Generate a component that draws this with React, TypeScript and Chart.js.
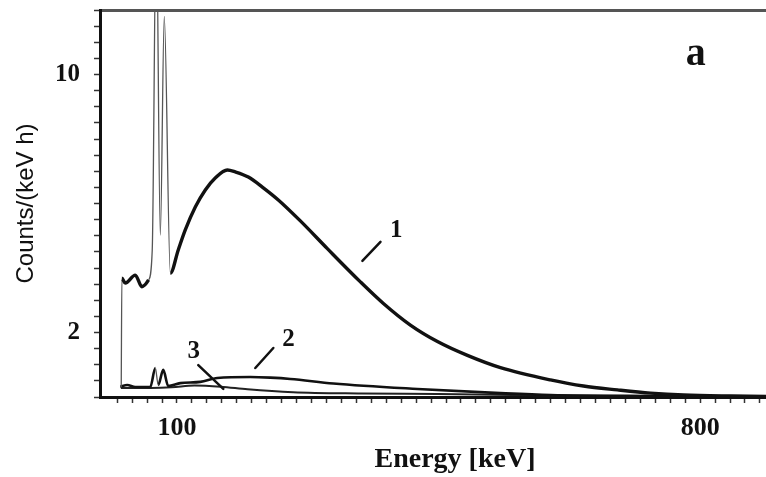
import React, { useEffect, useRef } from "react";
import { Chart, registerables } from "chart.js";

Chart.register(...registerables);

// ---- data (energy in keV, counts in 1/(keV h)) ----
const energy1 = [25.4, 26.3, 30.8, 44.2, 53.1, 62.0, 66.9, 72.3, 77.7, 83.0, 91.1, 101.7, 111.1, 124.5, 137.9, 151.2, 167.4, 178.0, 195.5, 214.2, 235.6, 265.1, 301.2, 345.4, 376.2, 412.3, 448.5, 488.6, 532.8, 599.7, 643.9, 689.4, 733.6, 777.8, 840.8, 888.9, 947];
const counts1 = [0.30, 3.68, 3.53, 3.78, 3.42, 3.63, 4.56, 15.0, 5.02, 11.8, 3.84, 4.56, 5.18, 5.89, 6.42, 6.79, 7.04, 6.98, 6.82, 6.51, 6.11, 5.46, 4.60, 3.57, 2.90, 2.23, 1.72, 1.29, 0.91, 0.53, 0.34, 0.22, 0.12, 0.06, 0.03, 0.02, 0.02];

const energy2 = [24.1, 33.4, 44.2, 64.3, 71.0, 74.9, 81.6, 88.3, 104.4, 131.2, 154.0, 198.1, 224.9, 251.7, 309.2, 421.7, 532.8, 599.8, 733.6, 888.9, 947];
const counts2 = [0.32, 0.37, 0.31, 0.31, 0.90, 0.37, 0.84, 0.34, 0.43, 0.47, 0.59, 0.62, 0.60, 0.56, 0.42, 0.25, 0.12, 0.06, 0.03, 0.02, 0.02];

const energy3 = [24.9, 44.2, 64.5, 92.9, 123.3, 158.9, 194.4, 255.3, 346.6, 448.1, 549.6, 701.7, 947];
const counts3 = [0.28, 0.28, 0.28, 0.30, 0.36, 0.32, 0.24, 0.15, 0.11, 0.09, 0.06, 0.03, 0.02];

const xTickLabels = [100, 800];
const yTickLabels = [2, 10];

// curve labels with pointer lines (data coordinates)
const curveLabels = ["1", "2", "3"];
const labelE = [393.3, 249.2, 122.3];
const labelC = [5.15, 1.77, 1.40];
const arrowE0 = [348.1, 204.8, 128.5];
const arrowC0 = [4.22, 0.90, 0.99];
const arrowE1 = [372.3, 228.9, 162.0];
const arrowC1 = [4.81, 1.52, 0.25];

const panelLabel = "a";
const panelE = [794.1];
const panelC = [10.6];

const toPoints = (xs: number[], ys: number[]) => xs.map((x, i) => ({ x, y: ys[i] }));

const steepSegment = (thick: number, thin: number) => ({
  borderWidth: (ctx: any) => {
    const dx = Math.abs(ctx.p1.x - ctx.p0.x);
    const dy = Math.abs(ctx.p1.y - ctx.p0.y);
    return dy > 4 * dx ? thin : thick;
  },
  borderColor: (ctx: any) => {
    const dx = Math.abs(ctx.p1.x - ctx.p0.x);
    const dy = Math.abs(ctx.p1.y - ctx.p0.y);
    return dy > 4 * dx ? "#555" : "#111";
  },
});

const annotate = {
  id: "annotate",
  afterDatasetsDraw(chart: any) {
    const { ctx, scales } = chart;
    const x = scales.x;
    const y = scales.y;
    ctx.save();
    ctx.strokeStyle = "#111";
    ctx.lineWidth = 2.5;
    ctx.lineCap = "round";
    for (let i = 0; i < curveLabels.length; i++) {
      ctx.beginPath();
      ctx.moveTo(x.getPixelForValue(arrowE0[i]), y.getPixelForValue(arrowC0[i]));
      ctx.lineTo(x.getPixelForValue(arrowE1[i]), y.getPixelForValue(arrowC1[i]));
      ctx.stroke();
    }
    ctx.fillStyle = "#111";
    ctx.textAlign = "center";
    ctx.textBaseline = "middle";
    ctx.font = 'bold 25px "Liberation Serif"';
    for (let i = 0; i < curveLabels.length; i++) {
      ctx.fillText(curveLabels[i], x.getPixelForValue(labelE[i]), y.getPixelForValue(labelC[i]));
    }
    ctx.font = 'bold 40px "Liberation Serif"';
    ctx.fillText(panelLabel, x.getPixelForValue(panelE[0]), y.getPixelForValue(panelC[0]));
    ctx.restore();
  },
};

const serif = '"Liberation Serif", "DejaVu Serif", serif';

export default function App() {
  const ref = useRef<HTMLCanvasElement | null>(null);
  useEffect(() => {
    if (!ref.current) return;
    const chart = new Chart(ref.current, {
      type: "line",
      data: {
        datasets: [
          {
            data: toPoints(energy1, counts1),
            borderColor: "#111",
            borderWidth: 3.4,
            pointRadius: 0,
            cubicInterpolationMode: "monotone",
            segment: steepSegment(3.4, 1.3),
          },
          {
            data: toPoints(energy2, counts2),
            borderColor: "#111",
            borderWidth: 2.6,
            pointRadius: 0,
            cubicInterpolationMode: "monotone",
            segment: steepSegment(2.6, 1.3),
          },
          {
            data: toPoints(energy3, counts3),
            borderColor: "#222",
            borderWidth: 2,
            pointRadius: 0,
            cubicInterpolationMode: "monotone",
          },
        ],
      },
      options: {
        responsive: false,
        animation: false,
        events: [],
        plugins: { legend: { display: false }, tooltip: { enabled: false } },
        layout: { padding: 0 },
        scales: {
          x: {
            type: "linear",
            position: "bottom",
            min: -3,
            max: 947,
            afterBuildTicks: (s: any) => {
              s.ticks = s.ticks.filter((t: any) => Math.abs(t.value / 20 - Math.round(t.value / 20)) < 1e-6);
            },
            afterFit: (s: any) => {
              s.height = 80;
              s.paddingLeft = 0;
              s.paddingRight = 0;
            },
            ticks: {
              stepSize: 20,
              autoSkip: false,
              maxRotation: 0,
              minRotation: 0,
              padding: 10,
              color: "#111",
              font: { family: serif, size: 26, weight: "bold" },
              callback: (v: any) => (xTickLabels.some((t) => Math.abs(t - v) < 1e-6) ? String(v) : ""),
            },
            grid: { drawOnChartArea: false, drawTicks: true, tickLength: 6, tickColor: "#333", tickWidth: 1.5 },
            border: { display: true, color: "#111", width: 3 },
            title: {
              display: true,
              text: "Energy [keV]",
              color: "#111",
              font: { family: serif, size: 28, weight: "bold", lineHeight: 1.2 },
              padding: { top: 0, bottom: 0 },
            },
          },
          x2: {
            type: "linear",
            position: "top",
            min: 0,
            max: 1,
            display: true,
            afterFit: (s: any) => {
              s.height = 10;
              s.paddingLeft = 0;
              s.paddingRight = 0;
            },
            grid: { display: false, drawTicks: false, tickLength: 0 },
            ticks: { display: false },
            border: { display: true, color: "#555", width: 3 },
          },
          y: {
            type: "linear",
            position: "left",
            min: 0,
            max: 12,
            afterFit: (s: any) => {
              s.width = 100;
              s.paddingTop = 0;
              s.paddingBottom = 0;
            },
            ticks: {
              stepSize: 0.5,
              autoSkip: false,
              padding: 14,
              color: "#111",
              font: { family: serif, size: 25, weight: "bold" },
              callback: (v: any) => (yTickLabels.some((t) => Math.abs(t - v) < 1e-6) ? String(v) : ""),
            },
            grid: { drawOnChartArea: false, drawTicks: true, tickLength: 6, tickColor: "#333", tickWidth: 1.5 },
            border: { display: true, color: "#111", width: 3 },
            title: {
              display: true,
              text: "Counts/(keV h)",
              color: "#111",
              font: { family: '"Liberation Sans", Arial, sans-serif', size: 24, weight: "normal", lineHeight: 1.2 },
              padding: { top: 12, bottom: 0 },
            },
          },
        },
      } as any,
      plugins: [annotate],
    });
    return () => chart.destroy();
  }, []);

  return (
    <div
      style={{
        position: "fixed",
        left: 0,
        top: 0,
        width: 766,
        height: 477,
        overflow: "hidden",
        background: "#fff",
      }}
    >
      <canvas ref={ref} width={810} height={477} style={{ display: "block" }} />
    </div>
  );
}
